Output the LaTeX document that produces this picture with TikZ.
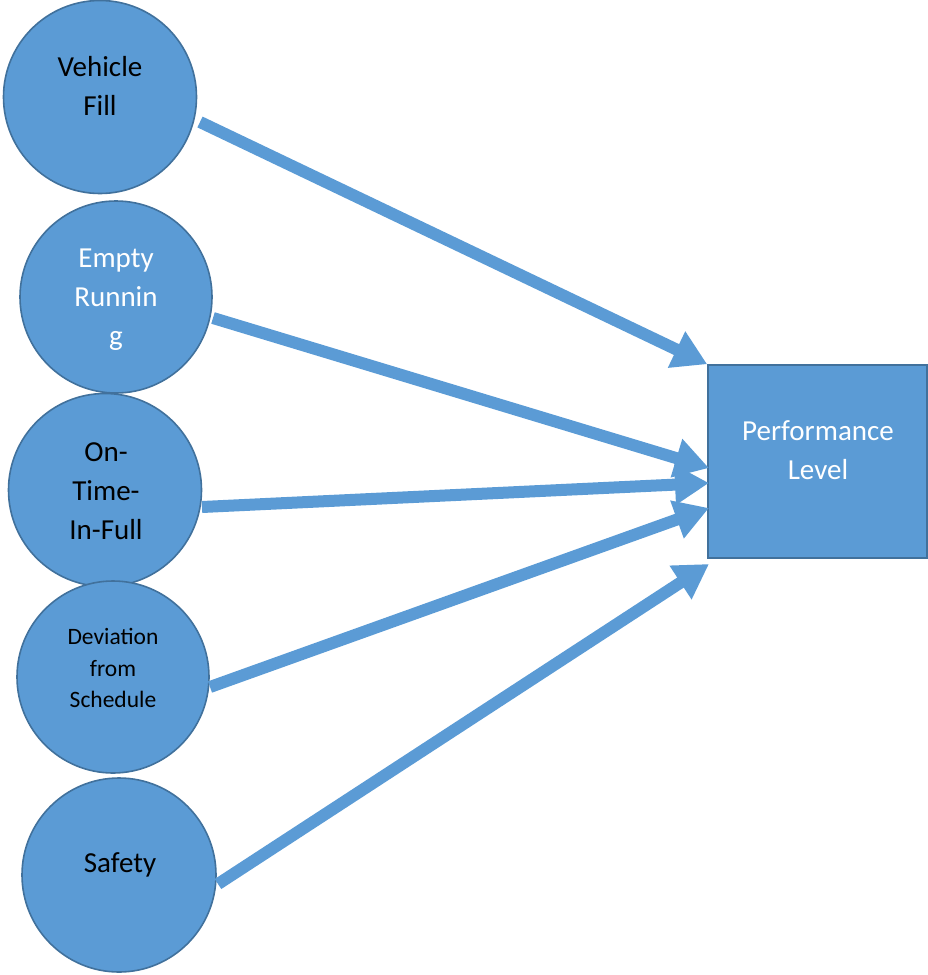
\documentclass[tikz,border=0pt]{standalone}
\usepackage{fontspec}
\setmainfont{Carlito}
\usetikzlibrary{arrows.meta}
\definecolor{fillblue}{HTML}{5B9BD5}
\definecolor{edgeblue}{HTML}{41719C}
\tikzset{
  bubble/.style={circle, fill=fillblue, draw=edgeblue, line width=1.6pt, minimum size=#1, inner sep=0pt},
  target/.style={rectangle, fill=fillblue, draw=edgeblue, line width=1.6pt, inner sep=0pt},
  bigtext/.style={align=center, font=\fontsize{29}{39}\selectfont, inner sep=0pt},
  smalltext/.style={align=center, font=\fontsize{23.5}{31.5}\selectfont, inner sep=0pt},
  link/.style={draw=fillblue, line width=12pt, -{Triangle[length=34pt,width=38pt]}}
}
\begin{document}
\begin{tikzpicture}[x=1pt,y=-1pt]
\useasboundingbox (0,0) rectangle (928,975);
% circles
\node[bubble=193pt] (vf) at (100,97) {};
\node[bubble=192pt] (er) at (116,297) {};
\node[bubble=193pt] (ot) at (105,490) {};
\node[bubble=192pt] (dv) at (113,677) {};
\node[bubble=194pt] (sf) at (119,875) {};
% target box
\node[target, minimum width=219pt, minimum height=193pt] (pl) at (817.5,461.5) {};
% labels
\node[bigtext, text=black] (tvf) at (100,86) {Vehicle\\Fill};
\node[bigtext, text=white] (ter) at (116,300) {Empty\\Runnin\\g};
\node[bigtext, text=black] (tot) at (106,491) {On-\\Time-\\In-Full};
\node[smalltext, text=black] (tdv) at (113,668) {Deviation\\from\\Schedule};
\node[bigtext, text=black] (tsf) at (120,865) {Safety};
\node[bigtext, text=white] (tpl) at (818,450) {Performance\\Level};
% arrow end points
\coordinate (s1) at (200,122);
\coordinate (s2) at (213,318);
\coordinate (s3) at (202,507);
\coordinate (s4) at (210,687);
\coordinate (s5) at (218,884);
\coordinate (e1) at (pl.north west);
\coordinate (e2) at (709,468);
\coordinate (e3) at (709,483);
\coordinate (e4) at (709,508);
\coordinate (e5) at (709,564);
\draw[link] (s1) -- (e1);
\draw[link] (s2) -- (e2);
\draw[link] (s3) -- (e3);
\draw[link] (s4) -- (e4);
\draw[link] (s5) -- (e5);
\end{tikzpicture}
\end{document}
